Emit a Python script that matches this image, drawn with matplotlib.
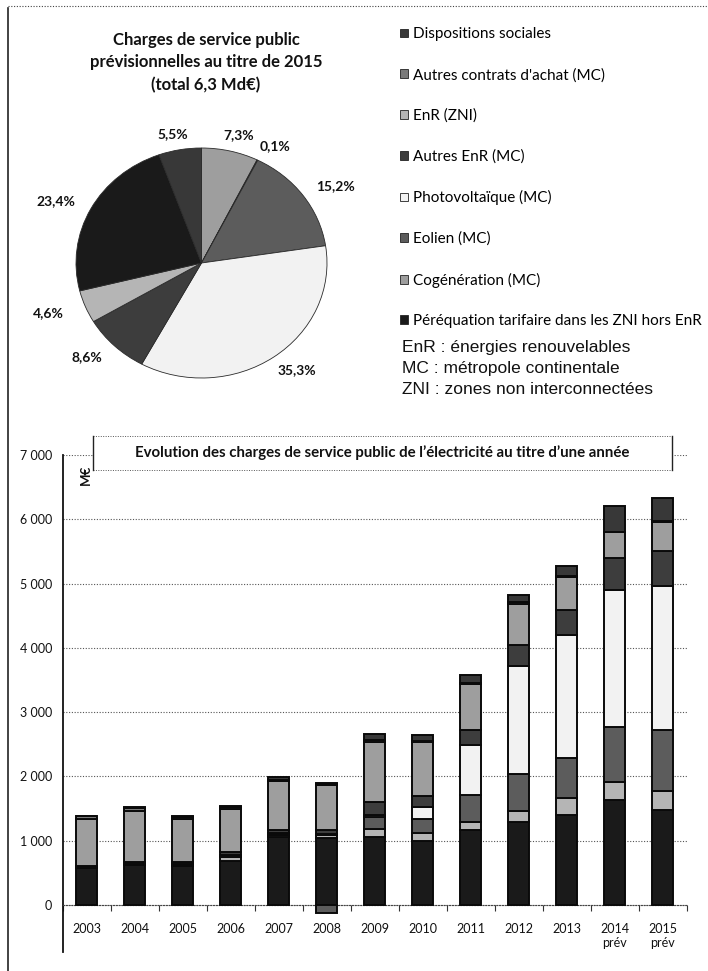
"""
Charges de service public de l'électricité : camembert 2015 + évolution 2003-2015.
"""

import numpy as np
import matplotlib
matplotlib.use('Agg')
import matplotlib.pyplot as plt
from matplotlib.patches import Patch, Rectangle
from matplotlib.lines import Line2D
from matplotlib.ticker import FuncFormatter

# --- data -------------------------------------------------------------------
years = ['2003', '2004', '2005', '2006', '2007', '2008', '2009', '2010',
         '2011', '2012', '2013', '2014\nprév', '2015\nprév']

# series in stacking order (bottom -> top), values in M€
perequation = [570, 620, 610, 690, 1060, 1050, 1060, 1000, 1166, 1290, 1400, 1630, 1480]
enr_zni = [10, 15, 15, 60, 30, 40, 120, 120, 130, 180, 260, 285, 300]
eolien = [0, 5, 10, 30, 20, -130, 190, 220, 413, 570, 620, 855, 950]
photovoltaique = [0, 0, 0, 0, 5, 10, 30, 180, 775, 1680, 1920, 2125, 2230]
autres_enr = [30, 35, 30, 40, 50, 60, 200, 180, 232, 320, 390, 500, 545]
cogeneration = [730, 790, 670, 670, 760, 700, 930, 830, 724, 650, 520, 400, 460]
autres_contrats = [40, 45, 40, 30, 25, 20, 40, 20, 20, 20, 10, 10, 10]
dispositions_sociales = [10, 10, 15, 20, 40, 20, 90, 90, 120, 120, 150, 395, 355]

series_names = ['Péréquation tarifaire dans les ZNI hors EnR', 'EnR (ZNI)', 'Eolien (MC)',
                'Photovoltaïque (MC)', 'Autres EnR (MC)', 'Cogénération (MC)',
                "Autres contrats d'achat (MC)", 'Dispositions sociales']
series_values = [perequation, enr_zni, eolien, photovoltaique, autres_enr,
                 cogeneration, autres_contrats, dispositions_sociales]

# pie 2015, clockwise from 12 o'clock (%)
pie_names = ['Cogénération (MC)', "Autres contrats d'achat (MC)", 'Eolien (MC)',
             'Photovoltaïque (MC)', 'Autres EnR (MC)', 'EnR (ZNI)',
             'Péréquation tarifaire dans les ZNI hors EnR', 'Dispositions sociales']
pie_values = [7.3, 0.1, 15.2, 35.3, 8.6, 4.6, 23.4, 5.5]

legend_order = ['Dispositions sociales', "Autres contrats d'achat (MC)", 'EnR (ZNI)',
                'Autres EnR (MC)', 'Photovoltaïque (MC)', 'Eolien (MC)',
                'Cogénération (MC)', 'Péréquation tarifaire dans les ZNI hors EnR']

notes = ['EnR : énergies renouvelables', 'MC : métropole continentale',
         'ZNI : zones non interconnectées']

colors = {
    'Péréquation tarifaire dans les ZNI hors EnR': '#1a1a1a',
    'EnR (ZNI)': '#b5b5b5',
    'Eolien (MC)': '#5c5c5c',
    'Photovoltaïque (MC)': '#f2f2f2',
    'Autres EnR (MC)': '#3d3d3d',
    'Cogénération (MC)': '#9e9e9e',
    "Autres contrats d'achat (MC)": '#7a7a7a',
    'Dispositions sociales': '#383838',
}

plt.rcParams['font.family'] = ['Lato', 'DejaVu Sans']

W, H = 708, 971
fig = plt.figure(figsize=(W / 100, H / 100), dpi=100)


def px_box(left, top, right, bottom):
    return [left / W, 1 - bottom / H, (right - left) / W, (bottom - top) / H]


def fx(x):
    return x / W


def fy(y):
    return 1 - y / H


# page frame
fig.add_artist(Line2D([fx(8), fx(8)], [fy(8), fy(971)], color='#222', lw=1.2,
                      transform=fig.transFigure))
fig.add_artist(Line2D([fx(8), fx(708)], [fy(6), fy(6)], color='#444', lw=0.8,
                      linestyle=(0, (1, 1.5)), transform=fig.transFigure))

# --- pie --------------------------------------------------------------------
fig.text(fx(206), fy(62.5), 'Charges de service public\nprévisionnelles au titre de 2015\n(total 6,3 Md€)',
         ha='center', va='center', fontsize=12, fontweight='bold', linespacing=1.5,
         color='#111')

k = 1.6
cx, cy, rx, ry = 201.5, 263, 125.5, 115
pax = fig.add_axes(px_box(cx - k * rx, cy - k * ry, cx + k * rx, cy + k * ry))
wedges, _ = pax.pie(pie_values, startangle=90, counterclock=False,
                    colors=[colors[n] for n in pie_names],
                    wedgeprops=dict(edgecolor='#2a2a2a', linewidth=0.6))
pax.set_aspect('auto')
pax.set_xlim(-k, k)
pax.set_ylim(-k, k)
pax.axis('off')
# labels just outside the rim, pushed further out sideways (pixel offsets)
for w, v in zip(wedges, pie_values):
    th = np.deg2rad((w.theta1 + w.theta2) / 2)
    lx = np.cos(th) * (1 + 40 / rx)
    ly = np.sin(th) * (1 + 16 / ry)
    pax.text(lx, ly, f'{v:.1f}%'.replace('.', ','),
             ha='center', va='center', fontsize=10, fontweight='bold', color='#111')

handles = [Patch(facecolor=colors[n], edgecolor='#222', linewidth=0.6, label=n)
           for n in legend_order]
fig.legend(handles=handles, loc='upper left', bbox_to_anchor=(fx(400), fy(27.5)),
           frameon=False, fontsize=11, handlelength=0.5, handleheight=0.5,
           handletextpad=0.35, labelspacing=1.73, borderaxespad=0, borderpad=0)

for i, line in enumerate(notes):
    fig.text(fx(402), fy(347 + 21.5 * i), line, ha='left', va='center',
             fontsize=12.5, family='Liberation Sans', color='#111')

# --- stacked bars -----------------------------------------------------------
ax = fig.add_axes(px_box(62.5, 455, 686.5, 952))
x = np.arange(len(years))
pos_bottom = np.zeros(len(years))
neg_bottom = np.zeros(len(years))
for name, vals in zip(series_names, series_values):
    vals = np.array(vals, dtype=float)
    base = np.where(vals >= 0, pos_bottom, neg_bottom)
    ax.bar(x, vals, width=0.43, bottom=base, color=colors[name],
           edgecolor='#0a0a0a', linewidth=1.4, zorder=3)
    pos_bottom += np.clip(vals, 0, None)
    neg_bottom += np.clip(vals, None, 0)

ax.set_xlim(-0.5, len(years) - 0.5)
ax.set_ylim(-730, 7000)
ax.set_yticks(np.arange(0, 7001, 1000))
ax.yaxis.set_major_formatter(FuncFormatter(lambda v, p: f'{int(v):,}'.replace(',', ' ')))
ax.yaxis.grid(True, linestyle=(0, (1, 1.5)), color='#555', linewidth=0.8)
ax.set_axisbelow(True)
ax.tick_params(axis='y', length=0, pad=7.5, labelsize=9, labelcolor='#111')

ax.set_xticks(x)
ax.set_xticklabels(years)
ax.set_xticks(np.arange(-0.5, len(years)), minor=True)
ax.tick_params(axis='x', which='major', length=0, pad=13, labelsize=9, labelcolor='#111')
ax.tick_params(axis='x', which='minor', length=4, width=0.8, color='#333', direction='out')

for s in ['top', 'right']:
    ax.spines[s].set_visible(False)
ax.spines['left'].set_color('#111')
ax.spines['left'].set_linewidth(1.3)
ax.spines['bottom'].set_position(('data', 0))
ax.spines['bottom'].set_linestyle((0, (1, 1.5)))
ax.spines['bottom'].set_color('#444')

ax.text(0.038, 0.96, 'M€', transform=ax.transAxes, rotation=90, ha='center',
        va='center', fontsize=9.5, fontweight='bold', color='#111')

# title box
box_l, box_t, box_r, box_b = 93, 436, 672, 470
fig.add_artist(Rectangle((fx(box_l), fy(box_b)), fx(box_r) - fx(box_l), fy(box_t) - fy(box_b),
                         transform=fig.transFigure, facecolor='white', edgecolor='none',
                         zorder=5))
for yy in (box_t, box_b):
    fig.add_artist(Line2D([fx(box_l), fx(box_r)], [fy(yy), fy(yy)], color='#555', lw=0.7,
                          linestyle=(0, (1, 1.5)), transform=fig.transFigure, zorder=6))
for xx in (box_l, box_r):
    fig.add_artist(Line2D([fx(xx), fx(xx)], [fy(box_t), fy(box_b)], color='#222', lw=1.0,
                          transform=fig.transFigure, zorder=6))
fig.text(fx((box_l + box_r) / 2), fy(453),
         "Evolution des charges de service public de l’électricité au titre d’une année",
         ha='center', va='center', fontsize=10.8, fontweight='bold', color='#111', zorder=7)

plt.savefig('out.png', dpi=100)
plt.close()
